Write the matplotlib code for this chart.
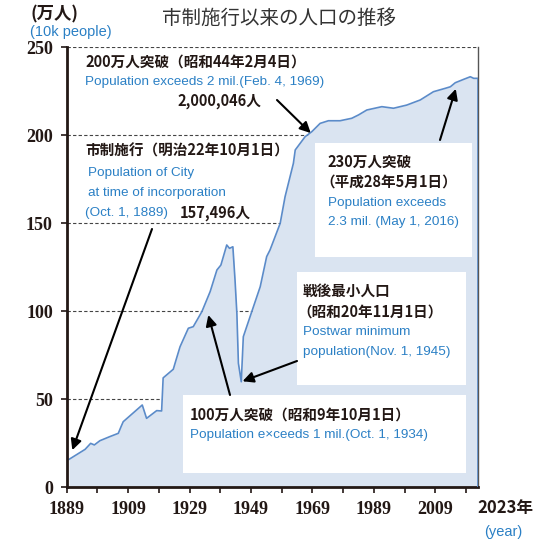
import numpy as np
import matplotlib
matplotlib.use("Agg")
import matplotlib.pyplot as plt
from matplotlib.patches import Rectangle
from matplotlib.transforms import Affine2D

# population of the city (unit: 10k people)
years = [1889.75, 1895.0, 1896.8, 1898.0, 1899.8, 1903.0, 1905.8, 1906.7, 1907.4,
         1913.6, 1915.0, 1918.3, 1919.9, 1920.4, 1923.7, 1924.6, 1925.9, 1928.6,
         1930.2, 1933.0, 1935.7, 1937.9, 1939.2, 1941.1, 1942.0, 1943.1, 1943.8,
         1944.4, 1944.9, 1945.83, 1946.5, 1947.6, 1952.0, 1954.1, 1955.2, 1958.5,
         1960.1, 1962.8, 1963.4, 1966.6, 1968.8, 1971.5, 1974.2, 1978.0, 1981.8,
         1984.0, 1986.7, 1991.6, 1995.4, 1999.7, 2004.1, 2008.4, 2012.2, 2013.9,
         2015.5, 2018.2, 2020.4, 2021.5, 2023.0]
population = [15.7, 21.4, 24.8, 23.9, 26.3, 28.6, 30.5, 34.3, 37.1,
              46.6, 39.0, 43.4, 43.2, 62.0, 66.9, 72.2, 79.7, 90.2,
              91.1, 99.6, 111.0, 123.3, 126.1, 137.5, 135.6, 136.5, 117.6,
              98.7, 70.3, 59.8, 85.4, 91.1, 113.8, 130.9, 134.7, 149.8,
              165.0, 183.9, 191.5, 199.0, 201.9, 206.6, 208.1, 208.1, 209.5,
              211.4, 214.2, 216.1, 215.2, 217.0, 219.9, 224.6, 226.5, 227.4,
              229.7, 231.6, 233.1, 232.2, 232.2]

# milestones pointed at by the arrows
milestone_years = [1889.75, 1934.75, 1945.83, 1969.1, 2016.33]
milestone_pop = [15.75, 100.0, 59.8, 200.0, 230.0]

major_years = [1889, 1909, 1929, 1949, 1969, 1989, 2009]
minor_years = [1899, 1919, 1939, 1959, 1979, 1999, 2019]
y_ticks = [0, 50, 100, 150, 200, 250]

BLACK = "#231815"
BLUE = "#2b80c5"
FILL = "#dae4f1"
LINE = "#5b8bc9"
JP = ["Noto Sans CJK JP", "DejaVu Sans"]
EN = ["Liberation Sans", "DejaVu Sans"]
NUM = ["Liberation Serif", "DejaVu Serif"]

W, H = 538, 541
fig = plt.figure(figsize=(W / 100, H / 100), dpi=100)
ax = fig.add_axes([66.7 / W, 1 - 487 / H, (478.3 - 66.7) / W, (487 - 47) / H])
# pixel coords measured from the top-left corner of the figure
pix = Affine2D().scale(1 / W, -1 / H).translate(0, 1) + fig.transFigure

ax.set_xlim(1889, 2023)
ax.set_ylim(0, 250)

for v in y_ticks[1:]:
    ax.axhline(v, color="#444444", lw=0.8, ls=(0, (3, 2)), zorder=0.5)

ax.fill_between(years, population, 0, color=FILL, lw=0, zorder=1)
ax.plot(years, population, color=LINE, lw=1.2, zorder=2)
ax.vlines(years[-1], 0, population[-1], color=LINE, lw=1.2, zorder=3)

ax.set_xticks(major_years)
ax.set_xticks(minor_years, minor=True)
ax.set_yticks(y_ticks)
ax.tick_params(axis="both", which="both", direction="out", length=4, width=1.2,
               color=BLACK, labelcolor=BLACK, labelsize=13)
for lab in ax.get_xticklabels() + ax.get_yticklabels():
    lab.set_family(NUM)
    lab.set_weight("bold")
ax.tick_params(axis="x", pad=6)
ax.tick_params(axis="y", pad=6)

ax.spines["top"].set_visible(False)
ax.spines["left"].set_linewidth(2)
ax.spines["bottom"].set_linewidth(2)
ax.spines["left"].set_color(BLACK)
ax.spines["bottom"].set_color(BLACK)
ax.spines["right"].set_color("#555555")
ax.spines["right"].set_linewidth(1)

# white boxes behind the notes
for x0, y0, x1, y1 in [(315, 143, 472, 257), (297, 272, 466, 385), (183, 395, 466, 473)]:
    ax.add_patch(Rectangle((x0, y1), x1 - x0, y0 - y1, transform=pix,
                           facecolor="white", edgecolor="none", zorder=4, clip_on=False))


def jp(x, y, s, size=10.5, color=BLACK, weight="bold", ha="left"):
    fig.text(x, y, s, transform=pix, family=JP, fontsize=size, color=color,
             weight=weight, va="center", ha=ha, zorder=6)


def en(x, y, s, size=9.7, color=BLUE):
    fig.text(x, y, s, transform=pix, family=EN, fontsize=size, color=color,
             va="center", ha="left", zorder=6)


# header
jp(30, 14, "(万人)", size=12.5)
en(30, 32, "(10k people)", size=10.5)
jp(279, 18, "市制施行以来の人口の推移", size=14, color="#333333", weight="normal", ha="center")

# axis end labels
jp(477, 508, "2023年", size=12)
en(484, 532, "(year)", size=10.5)

# notes
jp(85, 62, "200万人突破（昭和44年2月4日）")
en(85, 82, "Population exceeds 2 mil.(Feb. 4, 1969)")
jp(177, 101, "2,000,046人")

jp(85, 151, "市制施行（明治22年10月1日）")
en(88, 173, "Population of City")
en(88, 193, "at time of incorporation")
en(85, 213, "(Oct. 1, 1889)")
jp(180, 213, "157,496人")

jp(327, 162, "230万人突破")
jp(320, 182, "（平成28年5月1日）")
en(328, 203, "Population exceeds")
en(328, 222, "2.3 mil. (May 1, 2016)")

jp(303, 291, "戦後最小人口")
jp(297, 312, "（昭和20年11月1日）")
en(303, 332, "Postwar minimum")
en(303, 352, "population(Nov. 1, 1945)")

jp(190, 415, "100万人突破（昭和9年10月1日）")
en(190, 435, "Population e×ceeds 1 mil.(Oct. 1, 1934)")

# arrows: (start in pixels, index of milestone, shrink at head)
arrow_specs = [((152, 229), 0, 7), ((230, 395), 1, 3), ((297, 361), 2, 1),
               ((277, 100), 3, 2), ((440, 140), 4, 5)]
for (sx, sy), i, shrink in arrow_specs:
    ax.annotate("", xy=(milestone_years[i], milestone_pop[i]), xycoords="data",
                xytext=(sx, sy), textcoords=pix,
                arrowprops=dict(arrowstyle="-|>", color="black", lw=1.5,
                                mutation_scale=16, shrinkA=0, shrinkB=shrink),
                zorder=7, annotation_clip=False)

fig.savefig("out.png", dpi=100)
